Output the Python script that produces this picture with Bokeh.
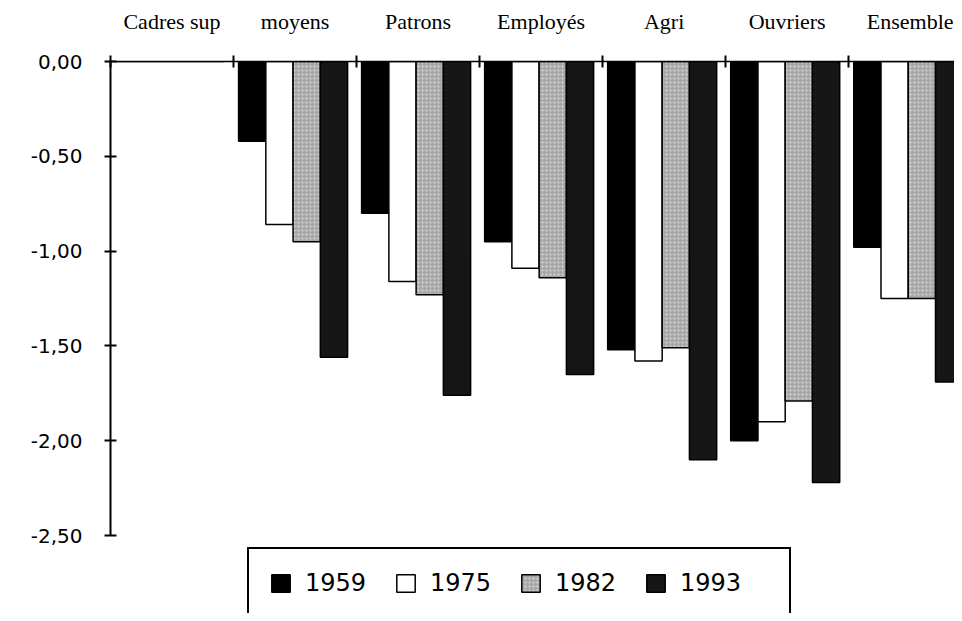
from bokeh.plotting import figure
from bokeh.models import (ColumnDataSource, Range1d, FixedTicker, LinearAxis,
                          CustomJSTickFormatter, Legend, LegendItem)
from bokeh.transform import dodge
from bokeh.embed import file_html
from bokeh.resources import INLINE

# ---- data ----
categories = ["Cadres sup", "moyens", "Patrons", "Employés", "Agri", "Ouvriers", "Ensemble"]
years = ["1959", "1975", "1982", "1993"]
v1959 = [0.00, -0.42, -0.80, -0.95, -1.52, -2.00, -0.98]
v1975 = [0.00, -0.86, -1.16, -1.09, -1.58, -1.90, -1.25]
v1982 = [0.00, -0.95, -1.23, -1.14, -1.51, -1.79, -1.25]
v1993 = [0.00, -1.56, -1.76, -1.65, -2.10, -2.22, -1.69]
y_ticks = [0.0, -0.5, -1.0, -1.5, -2.0, -2.5]

source = ColumnDataSource(dict(
    xc=[i + 0.5 for i in range(len(categories))],
    y1959=v1959, y1975=v1975, y1982=v1982, y1993=v1993,
))

p = figure(width=954, height=613, output_backend="svg", toolbar_location=None,
           x_range=Range1d(0, 6.86), y_range=Range1d(-2.911, 0),
           x_axis_location=None, y_axis_location=None,
           min_border_left=110, min_border_right=0, min_border_top=61,
           min_border_bottom=0)
p.outline_line_color = None
p.xgrid.visible = False
p.ygrid.visible = False
p.background_fill_color = "white"
p.border_fill_color = "white"

# ---- axes ----
xaxis = LinearAxis(
    ticker=FixedTicker(ticks=[i + 0.5 for i in range(len(categories))],
                       minor_ticks=list(range(len(categories) + 1))),
    formatter=CustomJSTickFormatter(args=dict(labels=categories),
                                    code="return labels[Math.floor(tick)] || '';"),
    major_tick_in=0, major_tick_out=0,
    minor_tick_in=6, minor_tick_out=6,
    minor_tick_line_color="black", minor_tick_line_width=2,
    axis_line_color="black", axis_line_width=1.5,
    major_label_text_font="Liberation Serif", major_label_text_font_size="22px",
    major_label_text_color="black", major_label_standoff=22,
)
p.add_layout(xaxis, "above")

yaxis = LinearAxis(
    ticker=FixedTicker(ticks=y_ticks, minor_ticks=[]),
    formatter=CustomJSTickFormatter(code="return tick.toFixed(2).replace('.', ',');"),
    bounds=(min(y_ticks), max(y_ticks)),
    major_tick_in=6, major_tick_out=6,
    major_tick_line_color="black", major_tick_line_width=2,
    minor_tick_line_color=None,
    axis_line_color="black", axis_line_width=2,
    major_label_text_font="DejaVu Sans", major_label_text_font_size="20px",
    major_label_text_color="black", major_label_standoff=22,
)
p.add_layout(yaxis, "left")

# ---- bars ----
bw = 0.2215
center = 0.484 - 0.5
offsets = [center + k * bw for k in (-1.5, -0.5, 0.5, 1.5)]
styles = [
    dict(fill_color="black", line_color="black"),
    dict(fill_color="white", line_color="black"),
    dict(fill_color="#a8a8a8", line_color="black", hatch_pattern="dot",
         hatch_color="white", hatch_scale=4, hatch_weight=1, hatch_alpha=0.6),
    dict(fill_color="#161616", line_color="black"),
]
renderers = []
for yr, off, st in zip(years, offsets, styles):
    r = p.vbar(x=dodge("xc", off, range=p.x_range), top="y" + yr, bottom=0,
               width=bw, source=source, line_width=1.5, **st)
    renderers.append(r)

legend = Legend(
    items=[LegendItem(label=yr, renderers=[r]) for yr, r in zip(years, renderers)],
    orientation="horizontal", location=(137, -6),
    padding=20, spacing=0, margin=0,
    glyph_width=23, glyph_height=22, label_standoff=13,
    label_width=89, label_height=26,
    label_text_font="DejaVu Sans", label_text_font_size="24px",
    label_text_color="black",
    border_line_color="black", border_line_width=2, border_line_alpha=1.0,
    background_fill_color="white", background_fill_alpha=1,
)
p.add_layout(legend)

open("out.html", "w").write(file_html(p, INLINE))
